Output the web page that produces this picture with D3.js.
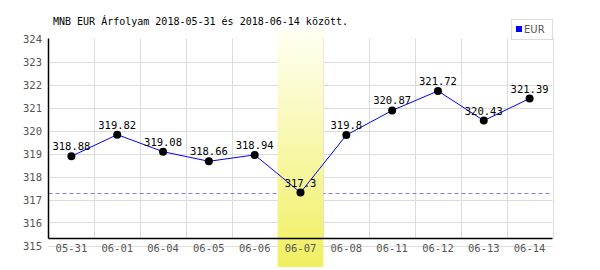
<!DOCTYPE html>
<html>
<head>
<meta charset="utf-8">
<script src="https://cdn.jsdelivr.net/npm/d3@7"></script>
<style>
  body { margin: 0; background: #fff; }
  svg { display: block; }
</style>
</head>
<body>
<script>
// Data
const dates = ["05-31", "06-01", "06-04", "06-05", "06-06", "06-07", "06-08", "06-11", "06-12", "06-13", "06-14"];
const rates = [318.88, 319.82, 319.08, 318.66, 318.94, 317.3, 319.8, 320.87, 321.72, 320.43, 321.39];
const rateLabels = ["318.88", "319.82", "319.08", "318.66", "318.94", "317.3", "319.8", "320.87", "321.72", "320.43", "321.39"];
const yTicks = [315, 316, 317, 318, 319, 320, 321, 322, 323, 324];
const highlightDate = "06-07";
const titleText = "MNB EUR Árfolyam 2018-05-31 és 2018-06-14 között.";
const seriesName = "EUR";

const width = 600, height = 270;
const plotLeft = 48.5, plotRight = 552.5, plotTop = 38.5, axisY = 238.5;

const svg = d3.select("body").append("svg")
    .attr("width", width)
    .attr("height", height)
    .style("font-family", "'DejaVu Sans Mono', monospace");

const x = d3.scaleBand().domain(dates).range([plotLeft, plotRight]);
const y = d3.scaleLinear().domain([315, 324]).range([245.5, plotTop]);
const cx = d => x(d) + x.bandwidth() / 2;

// horizontal grid
svg.append("g").selectAll("line")
    .data(yTicks.filter(d => d < 324))
    .join("line")
    .attr("x1", plotLeft).attr("x2", plotRight)
    .attr("y1", d => Math.round(y(d)) + 0.5).attr("y2", d => Math.round(y(d)) + 0.5)
    .attr("stroke", "#dcdcdc");

// vertical grid (band edges)
const edges = dates.map(d => x(d)).concat([plotRight]);
svg.append("g").selectAll("line")
    .data(edges.slice(1))
    .join("line")
    .attr("x1", d => Math.round(d) + 0.5).attr("x2", d => Math.round(d) + 0.5)
    .attr("y1", plotTop).attr("y2", axisY)
    .attr("stroke", "#dcdcdc");

// minimum dashed line
const minVal = d3.min(rates);
svg.append("line")
    .attr("x1", plotLeft).attr("x2", plotRight)
    .attr("y1", Math.round(y(minVal)) + 0.5).attr("y2", Math.round(y(minVal)) + 0.5)
    .attr("stroke", "#7b7bff")
    .attr("stroke-dasharray", "4,3");

// gradient band for highlighted day (drawn over the grid)
const grad = svg.append("defs").append("linearGradient")
    .attr("id", "hl").attr("x1", 0).attr("y1", 0).attr("x2", 0).attr("y2", 1);
grad.append("stop").attr("offset", "0%").attr("stop-color", "#fffff4");
grad.append("stop").attr("offset", "100%").attr("stop-color", "#f0ef60");

svg.append("rect")
    .attr("x", x(highlightDate))
    .attr("y", 29)
    .attr("width", x.bandwidth())
    .attr("height", 238)
    .attr("fill", "url(#hl)");

// axes lines
svg.append("line")
    .attr("x1", plotLeft).attr("x2", plotLeft).attr("y1", plotTop).attr("y2", axisY)
    .attr("stroke", "#000").attr("stroke-width", 1.5);
svg.append("line")
    .attr("x1", plotLeft).attr("x2", plotRight).attr("y1", axisY).attr("y2", axisY)
    .attr("stroke", "#000").attr("stroke-width", 1.5);

// y tick labels
svg.append("g").selectAll("text")
    .data(yTicks)
    .join("text")
    .attr("x", 42)
    .attr("y", d => y(d) + 4)
    .attr("text-anchor", "end")
    .attr("fill", "#555")
    .style("font-size", "10.5px")
    .text(d => d);

// x tick labels
svg.append("g").selectAll("text")
    .data(dates)
    .join("text")
    .attr("x", cx)
    .attr("y", 252)
    .attr("text-anchor", "middle")
    .attr("fill", "#555")
    .style("font-size", "10.5px")
    .text(d => d);

// series line
const line = d3.line()
    .x((d, i) => cx(dates[i]))
    .y(d => y(d));

svg.append("path")
    .datum(rates)
    .attr("d", line)
    .attr("fill", "none")
    .attr("stroke", "#0000ff")
    .attr("stroke-width", 1);

svg.append("g").selectAll("circle")
    .data(rates)
    .join("circle")
    .attr("cx", (d, i) => cx(dates[i]))
    .attr("cy", d => y(d))
    .attr("r", 4)
    .attr("fill", "#000");

svg.append("g").selectAll("text")
    .data(rates)
    .join("text")
    .attr("x", (d, i) => cx(dates[i]))
    .attr("y", d => y(d) - 6)
    .attr("text-anchor", "middle")
    .attr("fill", "#000")
    .style("font-size", "10.5px")
    .text((d, i) => rateLabels[i]);

// title
svg.append("text")
    .attr("x", 53)
    .attr("y", 25)
    .attr("fill", "#000")
    .style("font-size", "10px")
    .text(titleText);

// legend
const lg = svg.append("g");
lg.append("rect")
    .attr("x", 511.5).attr("y", 19.5).attr("width", 41).attr("height", 20)
    .attr("fill", "#fff").attr("stroke", "#dcdcdc");
lg.append("rect")
    .attr("x", 516).attr("y", 26).attr("width", 6).attr("height", 6)
    .attr("fill", "#0000ff");
lg.append("text")
    .attr("x", 524).attr("y", 33)
    .attr("fill", "#555")
    .style("font-family", "'DejaVu Sans', sans-serif")
    .style("font-size", "10px")
    .text(seriesName);
</script>
</body>
</html>
